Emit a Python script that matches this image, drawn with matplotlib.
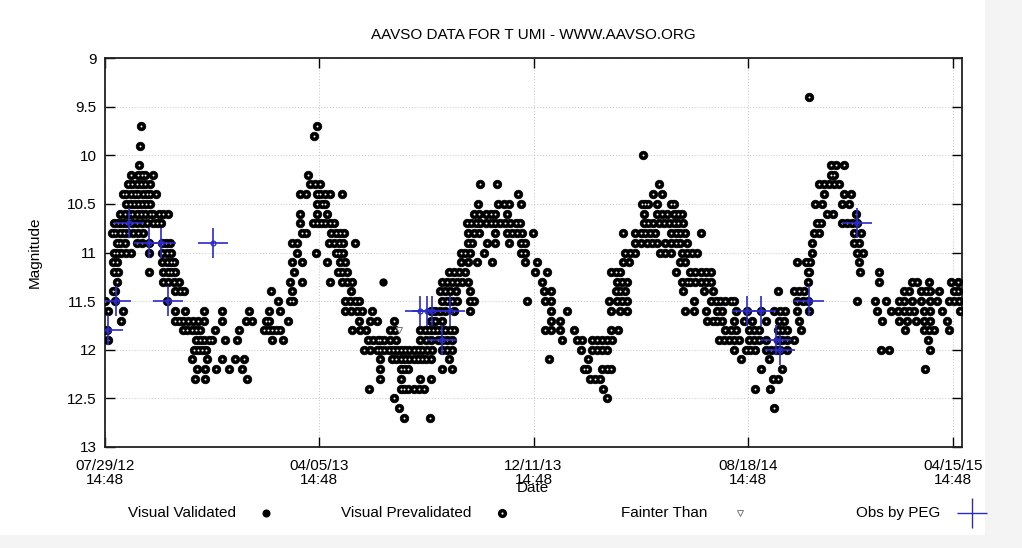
import matplotlib
matplotlib.use("Agg")
import matplotlib.pyplot as plt
from matplotlib.lines import Line2D
from matplotlib.patches import Rectangle

plt.rcParams['font.family'] = ['Liberation Sans', 'DejaVu Sans']

# ---------------- data (days since 07/29/12 14:48, magnitude) ----------------
# Visual Prevalidated observations, grouped by magnitude row per segment
seg_a = [  # first maximum and minimum
    (9.7, [42]), (9.9, [41]), (10.1, [40]),
    (10.2, [30, 39, 43, 47, 56]),
    (10.3, [27, 32, 37, 42, 47, 52]),
    (10.4, [21, 25, 30, 35, 39, 44, 49, 53, 59]),
    (10.5, [24, 29, 34, 38, 43, 48, 52]),
    (10.6, [18, 23, 28, 32, 37, 42, 47, 52, 56, 63, 68, 73]),
    (10.7, [10, 15, 20, 25, 31, 37, 43, 49, 56, 61, 65]),
    (10.8, [8, 12, 17, 22, 27, 33, 39, 44]),
    (10.9, [14, 18, 23, 37, 43, 51, 66, 71, 76]),
    (11.0, [10, 14, 19, 25, 30, 51, 67, 72, 77]),
    (11.1, [9, 14, 67, 72, 77, 81]),
    (11.2, [10, 15, 51, 68, 73, 77, 82]),
    (11.3, [14, 68, 74, 80, 86]),
    (11.4, [9, 12, 82, 87, 92]),
    (11.5, [0, 12, 72]),
    (11.6, [4, 21, 82, 93, 115, 136]),
    (11.7, [19, 82, 86, 91, 97, 103, 109, 115, 136, 165]),
    (11.8, [2, 91, 96, 101, 106, 111, 128, 156]),
    (11.9, [4, 106, 111, 116, 121, 125, 140, 154]),
    (12.0, [104, 109, 113, 118]),
    (12.1, [102, 119, 137, 152, 162]),
    (12.2, [107, 117, 130, 145, 160]),
    (12.3, [105, 117, 166]),
]
seg_b = [  # second maximum
    (9.7, [247]), (9.8, [244]), (10.2, [237]),
    (10.3, [239, 245, 251]),
    (10.4, [228, 234, 247, 251, 257, 263, 276]),
    (10.5, [247, 253, 257]),
    (10.6, [228, 247, 259]),
    (10.7, [228, 243, 247, 252, 257, 262, 267]),
    (10.8, [230, 234, 264, 269, 274, 279]),
    (10.9, [218, 224, 261, 267, 273, 278, 292]),
    (11.0, [224, 246, 269, 273, 278]),
    (11.1, [218, 230, 259, 274, 280]),
    (11.2, [220, 272, 277, 282]),
    (11.3, [216, 230, 262, 276, 282, 288]),
    (11.4, [194, 218, 287]),
    (11.5, [202, 216, 219, 280, 286, 292, 296]),
    (11.6, [168, 191, 204, 280, 287, 294, 300, 311]),
    (11.7, [171, 188, 191, 214, 296, 309, 317, 337]),
    (11.8, [185, 190, 195, 200, 204, 288, 298, 304]),
    (11.9, [195, 208, 307, 313, 319]),
    (12.0, [302, 309, 317]),
    (12.4, [308]),
]
seg_c = [  # second minimum
    (11.8, [332, 338, 368, 373, 378, 383, 387, 392, 397, 402, 407]),
    (11.9, [321, 326, 332, 339, 368, 374, 380, 389, 393, 399, 405]),
    (12.0, [321, 326, 331, 336, 341, 345, 350, 355, 360, 365, 370, 376, 382, 393, 399, 405]),
    (12.1, [321, 335, 340, 345, 350, 355, 360, 365, 370, 375, 380, 401]),
    (12.2, [321, 345, 349, 354, 393, 405]),
    (12.3, [321, 345, 367, 380]),
    (12.4, [345, 349, 354, 360, 366, 372]),
    (12.5, [337]), (12.6, [343]), (12.7, [349, 379]),
]
seg_d = [  # third maximum and minimum
    (10.3, [437, 457]), (10.4, [482]),
    (10.5, [435, 459, 465, 471, 485]),
    (10.6, [430, 436, 444, 450, 455, 469]),
    (10.7, [422, 427, 433, 438, 444, 450, 455, 461, 467, 473, 479, 484]),
    (10.8, [424, 430, 436, 455, 469, 475, 481, 487, 499]),
    (10.9, [423, 428, 446, 455, 471, 485, 490]),
    (11.0, [415, 420, 426, 442, 485, 490]),
    (11.1, [415, 424, 434, 452, 490, 504]),
    (11.2, [401, 407, 413, 420, 502, 516]),
    (11.3, [393, 399, 405, 411, 417, 423, 510]),
    (11.4, [391, 397, 403, 409, 426, 512, 520]),
    (11.5, [393, 399, 405, 411, 426, 431, 492, 514, 520]),
    (11.6, [380, 385, 391, 397, 407, 426, 520, 539]),
    (11.7, [380, 385, 393, 520, 531]),
    (11.8, [514, 520, 531, 547, 590, 599]),
    (11.9, [533, 551, 557, 568, 574, 580, 586, 592]),
    (12.0, [555, 568, 574, 580, 586]),
    (12.1, [518, 564]),
    (12.2, [559, 562, 580, 586, 590]),
    (12.3, [566, 572, 578]),
    (12.4, [581]), (12.5, [586]),
]
seg_e = [  # fourth maximum
    (10.0, [628]), (10.3, [646]), (10.4, [640, 650]),
    (10.5, [627, 630, 634, 644, 660, 664]),
    (10.6, [629, 644, 650, 656, 664, 669, 673]),
    (10.7, [629, 634, 640, 646, 652, 658, 664, 669, 675]),
    (10.8, [605, 619, 625, 630, 636, 642, 660, 666, 671, 677, 695]),
    (10.9, [619, 625, 632, 638, 644, 654, 660, 666, 671, 679]),
    (11.0, [607, 613, 619, 648, 654, 660, 673, 679, 685, 691]),
    (11.1, [605, 611, 671, 677]),
    (11.2, [590, 596, 601, 666]),
    (11.3, [597, 603, 609, 673, 679]),
    (11.4, [596, 601, 607, 675]),
    (11.5, [588, 597, 603, 609]),
    (11.6, [590, 601, 609, 677]),
]
seg_f = [  # fourth minimum, fifth maximum and after
    (9.4, [821]),
    (10.1, [847, 853, 862]), (10.2, [847, 851]),
    (10.3, [833, 839, 845, 851, 856]),
    (10.4, [839, 862, 870]),
    (10.5, [829, 837, 860, 868]),
    (10.6, [843, 849, 876]),
    (10.7, [831, 835, 860, 866, 872, 878]),
    (10.8, [827, 833, 874, 882]),
    (10.9, [825, 874, 880]),
    (11.0, [825, 878, 884]),
    (11.1, [808, 818, 823, 880]),
    (11.2, [683, 689, 695, 701, 707, 820, 822, 881, 903]),
    (11.3, [683, 689, 695, 701, 707, 820, 903, 942, 948, 961, 987, 995]),
    (11.4, [699, 709, 785, 804, 810, 816, 932, 938, 952, 958, 963, 973, 991, 995]),
    (11.5, [687, 707, 713, 718, 724, 730, 734, 808, 814, 820, 878, 899, 911, 926,
            932, 942, 952, 963, 971, 985, 991, 997]),
    (11.6, [687, 701, 714, 720, 736, 749, 765, 781, 788, 794, 808, 821, 901, 917,
            925, 932, 938, 944, 956, 963, 977, 998]),
    (11.7, [703, 709, 714, 720, 734, 746, 755, 771, 786, 792, 810, 907, 926, 936,
            946, 956, 963, 983]),
    (11.8, [724, 730, 736, 751, 757, 763, 785, 790, 796, 812, 934, 956, 961, 967, 985]),
    (11.9, [716, 722, 728, 734, 740, 751, 757, 763, 771, 785, 790, 796, 804, 960]),
    (12.0, [734, 748, 753, 759, 771, 777, 783, 788, 796, 905, 915, 963]),
    (12.1, [742, 775]),
    (12.2, [766, 790, 957]),
    (12.3, [779, 785]),
    (12.4, [759, 776]),
    (12.6, [781]),
]
prevalidated_segments = [seg_a, seg_b, seg_c, seg_d, seg_e, seg_f]

# Visual Validated
val_days = [324]
val_mags = [11.3]

# Fainter Than
fnt_days = [343]
fnt_mags = [11.8]

# Obs by PEG
peg_days = [3, 13, 28, 51, 65, 74, 126, 367, 376, 381, 402, 393, 749, 765, 783, 788, 821, 878]
peg_mags = [11.8, 11.5, 10.7, 10.9, 10.9, 11.5, 10.9, 11.6, 11.6, 11.6, 11.6, 11.9,
            11.6, 11.6, 11.9, 12.0, 11.5, 10.7]

tick_days = [0, 250, 500, 750, 990]
tick_labels = ["07/29/12\n14:48", "04/05/13\n14:48", "12/11/13\n14:48",
               "08/18/14\n14:48", "04/15/15\n14:48"]
y_ticks = [9, 9.5, 10, 10.5, 11, 11.5, 12, 12.5, 13]
y_tick_labels = ["9", "9.5", "10", "10.5", "11", "11.5", "12", "12.5", "13"]

# ---------------- figure ----------------
W, H = 1022, 548
fig = plt.figure(figsize=(W / 100, H / 100), dpi=100)
fig.patch.set_facecolor('#f4f4f4')
bg = Rectangle((0, 1 - 535 / H), 985 / W, 535 / H, transform=fig.transFigure,
               facecolor='white', edgecolor='none', zorder=-10)
fig.add_artist(bg)

ax = fig.add_axes([105 / W, 1 - 447 / H, (962 - 105) / W, (447 - 58) / H])
ax.set_zorder(1)
ax.set_facecolor('white')

pv_x, pv_y = [], []
for seg in prevalidated_segments:
    for mag, days in seg:
        for d in days:
            pv_x.append(d)
            pv_y.append(mag)

blue = '#2a2ac8'
ax.plot(pv_x, pv_y, linestyle='none', marker='o', ms=6.1, mfc='black',
        mec='black', mew=0.6, zorder=3)
ax.plot(pv_x, pv_y, linestyle='none', marker='o', ms=1.4, mfc='white',
        mec='none', zorder=4)
ax.plot(val_days, val_mags, linestyle='none', marker='o', ms=5.0, mfc='black',
        mec='black', zorder=4)
ax.plot(fnt_days, fnt_mags, linestyle='none', marker='v', ms=4.5, mfc='white',
        mec='#777777', mew=0.7, zorder=4)
ax.plot(peg_days, peg_mags, linestyle='none', marker='+', ms=21, mew=1.2,
        color=blue, zorder=5)
ax.plot(peg_days, peg_mags, linestyle='none', marker='o', ms=3.5, mfc='none',
        mec=blue, mew=0.9, zorder=5)

ax.set_xlim(0, 1000)
ax.set_ylim(13, 9)
ax.set_xticks(tick_days)
ax.set_xticklabels(tick_labels, fontsize=11, linespacing=1.0)
ax.set_yticks(y_ticks)
ax.set_yticklabels(y_tick_labels, fontsize=11)
ax.tick_params(direction='in', length=7, width=1.0, top=True, right=True,
               pad=6, colors='black')
ax.tick_params(axis='x', pad=9)
ax.grid(True, color='#c4c4c4', linestyle=(0, (1, 2)), linewidth=0.7)
ax.set_axisbelow(True)
for sp in ax.spines.values():
    sp.set_linewidth(1.3)
    sp.set_color('#222222')

ax.set_title("AAVSO DATA FOR T UMI - WWW.AAVSO.ORG", fontsize=11, pad=14)
fig.text(533 / W, 1 - 488 / H, "Date", ha='center', va='center', fontsize=11)
fig.text(35 / W, 1 - 252 / H, "Magnitude", ha='center', va='center',
         rotation=90, fontsize=11)

# legend row
ly = 1 - 513 / H
legend_items = [("Visual Validated", 236, 266), ("Visual Prevalidated", 471, 502),
                ("Fainter Than", 707, 740), ("Obs by PEG", 940, 972)]
for label, tx, mx in legend_items:
    fig.text(tx / W, ly, label, ha='right', va='center', fontsize=11)
fig.add_artist(Line2D([266 / W], [ly], marker='o', ms=4.8, mfc='black', mec='black',
                      linestyle='none', transform=fig.transFigure))
fig.add_artist(Line2D([502 / W], [ly], marker='o', ms=5.6, mfc='black', mec='black',
                      linestyle='none', transform=fig.transFigure))
fig.add_artist(Line2D([502 / W], [ly], marker='o', ms=1.5, mfc='white', mec='none',
                      linestyle='none', transform=fig.transFigure))
fig.add_artist(Line2D([740 / W], [ly], marker='v', ms=4.5, mfc='white', mec='#777777',
                      mew=0.7, linestyle='none', transform=fig.transFigure))
fig.add_artist(Line2D([972 / W], [ly], marker='+', ms=21, mew=1.0, color=blue,
                      linestyle='none', transform=fig.transFigure))

fig.savefig("out.png", dpi=100, facecolor=fig.get_facecolor())
